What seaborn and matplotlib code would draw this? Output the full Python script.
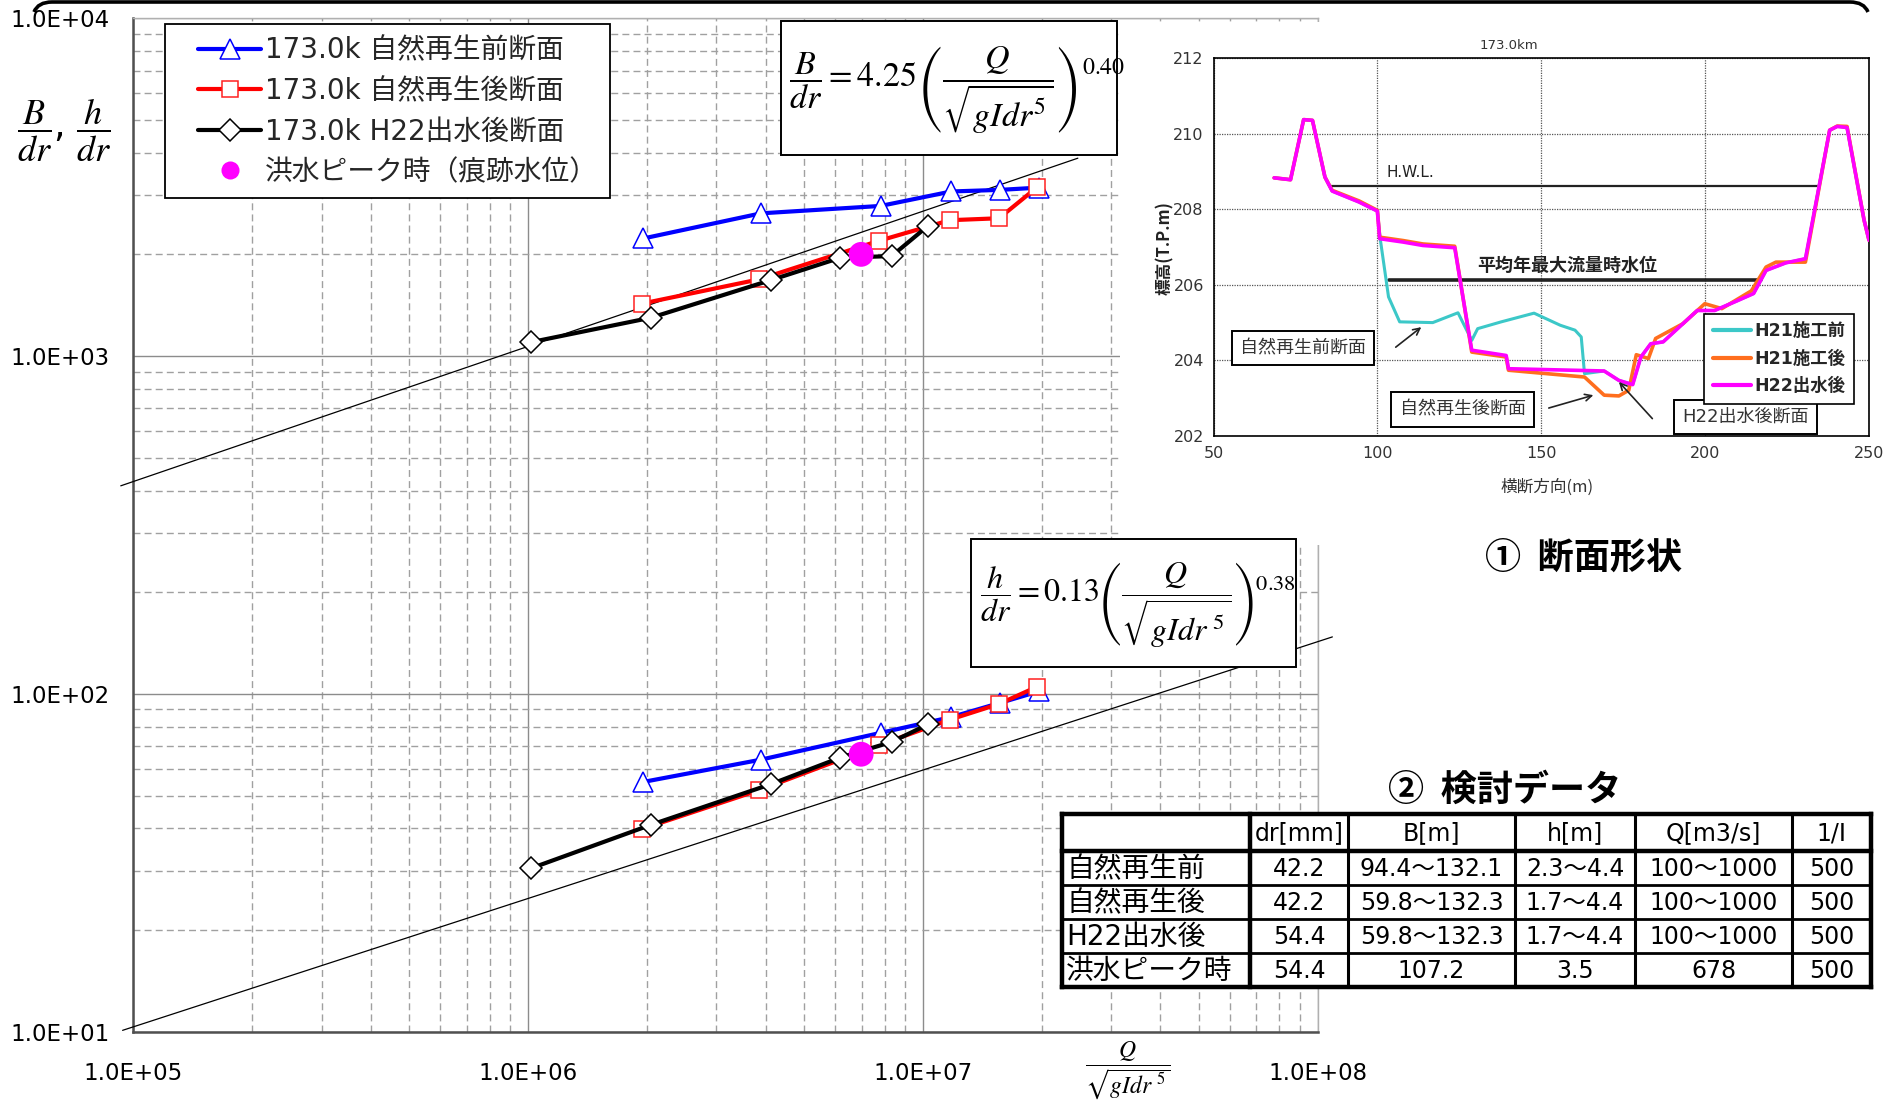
import matplotlib
matplotlib.use("Agg")
import matplotlib.pyplot as plt
import seaborn as sns
import numpy as np
from matplotlib import font_manager as fm
from matplotlib.font_manager import FontProperties
from matplotlib.ticker import LogLocator, NullFormatter, FixedLocator, FixedFormatter
from matplotlib.patches import Rectangle, PathPatch
from matplotlib.path import Path
from matplotlib.lines import Line2D
from matplotlib.legend_handler import HandlerLine2D

# ---------------- main log-log chart data ----------------
x_before = [1.96e6, 3.89e6, 7.82e6, 1.18e7, 1.57e7, 1.97e7]
x_after = [1.94e6, 3.85e6, 7.73e6, 1.17e7, 1.56e7, 1.95e7]
x_h22 = [1.02e6, 2.05e6, 4.13e6, 6.18e6, 8.34e6, 1.03e7]
B_before = [2229, 2645, 2782, 3070, 3104, 3152]
B_after = [1429, 1687, 2192, 2524, 2558, 3163]
B_h22 = [1100, 1299, 1679, 1954, 1977, 2427]
h_before = [54.9, 63.9, 76.7, 85.4, 94.1, 101.8]
h_after = [39.8, 51.9, 70.5, 83.9, 93.4, 105.1]
h_h22 = [30.5, 41.0, 54.1, 64.8, 72.1, 81.2]
x_peak = [6.98e6]
B_peak = [2000]
h_peak = [66.3]
fitB_x = [9.3e4, 2.47e7]
fitB_y = [413, 3852]
fith_x = [9.4e4, 1.09e8]
fith_y = [10.1, 147.5]

series_labels = ["173.0k 自然再生前断面", "173.0k 自然再生後断面",
                 "173.0k H22出水後断面", "洪水ピーク時（痕跡水位）"]
x_ticks = [1e5, 1e6, 1e7, 1e8]
x_ticklabels = ["1.0E+05", "1.0E+06", "1.0E+07", "1.0E+08"]
y_ticks = [1e1, 1e2, 1e3, 1e4]
y_ticklabels = ["1.0E+01", "1.0E+02", "1.0E+03", "1.0E+04"]

# ---------------- cross-section inset data ----------------
sec_x_h22 = [68.5, 73.5, 77.5, 80.2, 84.0, 86.2, 94.4, 100.0, 100.7, 107.9, 113.9, 123.6,
             128.8, 139.3, 140.0, 169.2, 173.7, 177.9, 180.4, 183.4, 187.2, 197.6, 202.9,
             209.6, 214.8, 218.6, 224.6, 230.6, 238.0, 240.3, 243.3, 248.5, 250.0]
sec_y_h22 = [208.83, 208.78, 210.37, 210.35, 208.85, 208.48, 208.19, 207.95, 207.22, 207.13,
             207.04, 206.98, 204.27, 204.13, 203.78, 203.72, 203.47, 203.36, 204.09, 204.44,
             204.49, 205.32, 205.32, 205.57, 205.77, 206.38, 206.58, 206.69, 210.09, 210.19,
             210.16, 207.71, 207.18]
sec_x_after = [68.5, 73.5, 77.5, 80.2, 84.0, 86.2, 94.4, 100.0, 100.7, 107.9, 113.9, 123.6,
               128.8, 139.3, 140.0, 163.2, 169.2, 173.7, 176.7, 179.0, 182.7, 184.9, 193.2,
               199.9, 205.1, 214.1, 218.6, 221.6, 230.6, 238.0, 240.3, 243.3, 248.5, 250.0]
sec_y_after = [208.83, 208.78, 210.37, 210.35, 208.85, 208.50, 208.22, 207.97, 207.26, 207.17,
               207.08, 207.02, 204.22, 204.09, 203.74, 203.56, 203.08, 203.06, 203.21, 204.15,
               204.05, 204.58, 204.97, 205.50, 205.37, 205.84, 206.47, 206.60, 206.60, 210.09,
               210.20, 210.19, 207.71, 207.18]
sec_x_before = [68.5, 73.5, 77.5, 80.2, 84.0, 86.2, 94.4, 100.0, 100.8, 103.4, 106.8, 116.9,
                124.6, 128.8, 130.6, 137.8, 147.8, 155.8, 160.3, 162.2, 163.2, 169.2, 173.7,
                177.9, 180.4, 183.4, 187.2, 197.6, 202.9, 209.6, 214.8, 218.6, 224.6, 230.6,
                238.0, 240.3, 243.3, 248.5, 250.0]
sec_y_before = [208.83, 208.78, 210.37, 210.35, 208.85, 208.48, 208.19, 207.95, 207.26, 205.68,
                205.02, 205.00, 205.26, 204.53, 204.84, 205.02, 205.25, 204.93, 204.80, 204.62,
                203.65, 203.72, 203.47, 203.36, 204.09, 204.44, 204.49, 205.32, 205.32, 205.57,
                205.77, 206.38, 206.58, 206.69, 210.09, 210.19, 210.16, 207.71, 207.18]
hwl_x = [85.9, 234.7]
hwl_y = [208.61, 208.61]
mean_x = [103.4, 217.1]
mean_y = [206.14, 206.14]
sec_labels = ["H21施工前", "H21施工後", "H22出水後"]

# ---------------- table data ----------------
table_header = ["", "dr[mm]", "B[m]", "h[m]", "Q[m3/s]", "1/I"]
table_rows = ["自然再生前", "自然再生後", "H22出水後", "洪水ピーク時"]
table_dr = ["42.2", "42.2", "54.4", "54.4"]
table_B = ["94.4～132.1", "59.8～132.3", "59.8～132.3", "107.2"]
table_h = ["2.3～4.4", "1.7～4.4", "1.7～4.4", "3.5"]
table_Q = ["100～1000", "100～1000", "100～1000", "678"]
table_I = ["500", "500", "500", "500"]

# ---------------- style ----------------
sns.set_theme(style="white")
names = {f.name for f in fm.fontManager.ttflist}
NARROW = "Liberation Sans Narrow" if "Liberation Sans Narrow" in names else "DejaVu Sans"
IS_NARROW = NARROW != "DejaVu Sans"
CJK = "Noto Sans CJK JP"
plt.rcParams["font.family"] = [NARROW, CJK, "DejaVu Sans"]
plt.rcParams["mathtext.fontset"] = "stix"
plt.rcParams["axes.unicode_minus"] = False

TICK_FS = 22 if IS_NARROW else 16.5
TABLE_FS = 21 if IS_NARROW else 17
TABLE_LAB_FS = 20
INSET_FS = 14 if IS_NARROW else 11.5

W, H = 1899, 1106
fig = plt.figure(figsize=(W / 100, H / 100), dpi=100)
fig.patch.set_facecolor("white")


def fx(px):
    return px / W


def fy(py):
    return 1 - py / H


# ---------------- main axes ----------------
ax = fig.add_axes([fx(133.2), fy(1031.8), fx(1317.6) - fx(133.2), fy(18.2) - fy(1031.8)])
ax.set_zorder(1)
ax.set_xscale("log")
ax.set_yscale("log")
ax.set_xlim(1e5, 1e8)
ax.set_ylim(10, 1e4)
ax.set_facecolor("white")

ax.xaxis.set_major_locator(FixedLocator(x_ticks))
ax.xaxis.set_major_formatter(FixedFormatter(x_ticklabels))
ax.yaxis.set_major_locator(FixedLocator(y_ticks))
ax.yaxis.set_major_formatter(FixedFormatter(y_ticklabels))
ax.xaxis.set_minor_locator(LogLocator(base=10, subs=np.arange(2, 10)))
ax.yaxis.set_minor_locator(LogLocator(base=10, subs=np.arange(2, 10)))
ax.xaxis.set_minor_formatter(NullFormatter())
ax.yaxis.set_minor_formatter(NullFormatter())
ax.set_axisbelow(True)
ax.grid(True, which="major", color="#8c8c8c", lw=1.0, ls="-")
ax.grid(True, which="minor", color="#a0a0a0", lw=1.0, ls=(0, (5, 3)))
ax.tick_params(axis="both", which="major", length=6, direction="in", color="#444444",
               labelsize=TICK_FS, labelcolor="black")
ax.tick_params(axis="x", which="major", pad=22)
ax.tick_params(axis="y", which="major", pad=17)
ax.tick_params(which="minor", length=0)
for s in ["left", "bottom"]:
    ax.spines[s].set_color("#505050")
    ax.spines[s].set_linewidth(1.8)
for s in ["top", "right"]:
    ax.spines[s].set_color("#b0b0b0")
    ax.spines[s].set_linewidth(1.0)

# fitted power-law reference lines
sns.lineplot(x=fitB_x, y=fitB_y, ax=ax, color="black", linewidth=0.9, sort=False,
             estimator=None, clip_on=False, zorder=3)
sns.lineplot(x=fith_x, y=fith_y, ax=ax, color="black", linewidth=0.9, sort=False,
             estimator=None, clip_on=False, zorder=3)

LW = 3.0
styles = [
    dict(color="#0000ff", marker="^", markersize=15, markerfacecolor="white",
         markeredgecolor="#0000ff"),
    dict(color="#ff0000", marker="s", markersize=11.5, markerfacecolor="white",
         markeredgecolor="#ff2020"),
    dict(color="black", marker="D", markersize=11, markerfacecolor="white",
         markeredgecolor="black"),
]
for (xs, ys), st in zip([(x_before, B_before), (x_after, B_after), (x_h22, B_h22)], styles):
    sns.lineplot(x=xs, y=ys, ax=ax, linewidth=LW, sort=False, estimator=None,
                 markeredgewidth=1.1, zorder=5, **st)
for (xs, ys), st in zip([(x_before, h_before), (x_after, h_after), (x_h22, h_h22)], styles):
    sns.lineplot(x=xs, y=ys, ax=ax, linewidth=LW, sort=False, estimator=None,
                 markeredgewidth=1.1, zorder=5, **st)
for ys in (B_peak, h_peak):
    sns.scatterplot(x=x_peak, y=ys, ax=ax, color="#ff00ff", s=320, edgecolor="none",
                    zorder=7)

handles = [Line2D([], [], linewidth=LW, markeredgewidth=1.1, **st) for st in styles]
handles.append(Line2D([], [], ls="none", marker="o", markersize=13,
                      markerfacecolor="#ff00ff", markeredgecolor="none"))
leg = ax.legend(handles, series_labels, loc="upper left", bbox_to_anchor=(0.0268, 0.9943),
                borderaxespad=0, frameon=True, fancybox=False, edgecolor="black",
                framealpha=1, handlelength=3.0, handletextpad=0.15, labelspacing=0.45,
                borderpad=0.45, handler_map={Line2D: HandlerLine2D(xpad=0.75)},
                prop=FontProperties(family=[NARROW, CJK], size=20))
leg.get_frame().set_linewidth(1.3)
leg.set_zorder(10)

# white area where the cross-section picture sits
fig.patches.append(Rectangle((fx(1120), fy(545)), fx(1899) - fx(1120), fy(22) - fy(545),
                             transform=fig.transFigure, facecolor="white",
                             edgecolor="none", zorder=1.5))

# ---------------- inset cross-section ----------------
axi = fig.add_axes([fx(1213.5), fy(436), fx(1869) - fx(1213.5), fy(58) - fy(436)])
axi.set_zorder(3)
axi.set_facecolor("white")
axi.set_xlim(50, 250)
axi.set_ylim(202, 212)
axi.set_xticks([50, 100, 150, 200, 250])
axi.set_yticks([202, 204, 206, 208, 210, 212])
axi.grid(True, color="#555555", lw=0.9, ls=(0, (1, 1)))
axi.set_axisbelow(True)
axi.tick_params(axis="both", length=4, direction="out", color="black",
                labelsize=INSET_FS, labelcolor="#333333", pad=3)
for s in axi.spines.values():
    s.set_color("black")
    s.set_linewidth(1.2)

c_before, c_after, c_h22 = "#3cc8c8", "#ff6e1e", "#ff00ff"
sns.lineplot(x=sec_x_before, y=sec_y_before, ax=axi, color=c_before, linewidth=2.2,
             sort=False, estimator=None, zorder=3)
sns.lineplot(x=sec_x_after, y=sec_y_after, ax=axi, color=c_after, linewidth=2.6,
             sort=False, estimator=None, zorder=4)
sns.lineplot(x=sec_x_h22, y=sec_y_h22, ax=axi, color=c_h22, linewidth=2.6,
             sort=False, estimator=None, zorder=5)
sns.lineplot(x=hwl_x, y=hwl_y, ax=axi, color="#222222", linewidth=1.6, sort=False,
             estimator=None, zorder=2)
sns.lineplot(x=mean_x, y=mean_y, ax=axi, color="#222222", linewidth=2.6, sort=False,
             estimator=None, zorder=2)

axi.text(140, 212.15, "173.0km", ha="center", va="bottom", fontsize=INSET_FS - 2,
         color="#333333")
axi.text(102.7, 208.98, "H.W.L.", ha="left", va="center", fontsize=INSET_FS - 0.5,
         color="#222222")
axi.text(157.8, 206.51, "平均年最大流量時水位", ha="center", va="center", fontsize=13,
         fontweight="bold", family=[CJK], color="#222222")

box_kw = dict(boxstyle="square,pad=0.45", facecolor="white", edgecolor="black", lw=1.4)
axi.text(77.2, 204.32, "自然再生前断面", ha="center", va="center", fontsize=13,
         family=[CJK], color="#333333", bbox=box_kw, zorder=8)
axi.text(126.0, 202.70, "自然再生後断面", ha="center", va="center", fontsize=13,
         family=[CJK], color="#333333", bbox=box_kw, zorder=8)
axi.text(212.4, 202.51, "H22出水後断面", ha="center", va="center", fontsize=13,
         family=[NARROW, CJK], color="#333333", bbox=box_kw, zorder=8)
arr = dict(arrowstyle="->", lw=1.2, color="#222222", shrinkA=0, shrinkB=0)
axi.annotate("", xy=(113.4, 204.88), xytext=(105.6, 204.35), arrowprops=arr, zorder=8)
axi.annotate("", xy=(165.9, 203.08), xytext=(152.3, 202.74), arrowprops=arr, zorder=8)
axi.annotate("", xy=(173.7, 203.43), xytext=(183.9, 202.46), arrowprops=arr, zorder=8)

sec_handles = [Line2D([], [], color=c, lw=3) for c in (c_before, c_after, c_h22)]
lg2 = axi.legend(sec_handles, sec_labels, loc="upper left", bbox_to_anchor=(0.749, 0.324),
                 borderaxespad=0, frameon=True, fancybox=False, edgecolor="black",
                 framealpha=1, handlelength=2.2, handletextpad=0.2, labelspacing=0.55,
                 borderpad=0.5,
                 prop=FontProperties(family=[NARROW, CJK], size=12.5, weight="bold"))
lg2.get_frame().set_linewidth(1.2)
lg2.set_zorder(9)

# ---------------- overlay (texts, formula boxes, table) ----------------
ov = fig.add_axes([0, 0, 1, 1])
ov.set_zorder(4)
ov.set_xlim(0, W)
ov.set_ylim(H, 0)
ov.set_facecolor("none")
ov.axis("off")

# top rounded border
verts = [(34, 12), (38, 2), (52, 2), (1850, 2), (1864, 2), (1868, 12)]
codes = [Path.MOVETO, Path.CURVE3, Path.CURVE3, Path.LINETO, Path.CURVE3, Path.CURVE3]
ov.add_patch(PathPatch(Path(verts, codes), facecolor="none", edgecolor="black", lw=2.6,
                       clip_on=False))

# formula boxes
ov.add_patch(Rectangle((781, 21), 336, 134, facecolor="white", edgecolor="black", lw=1.4))
ov.text(957, 90, r"$\dfrac{B}{dr}=4.25\left(\dfrac{Q}{\sqrt{gIdr^{5}}}\right)^{0.40}$",
        ha="center", va="center", fontsize=24.5, color="black")
ov.add_patch(Rectangle((971, 539), 325, 128, facecolor="white", edgecolor="black", lw=1.4))
ov.text(1138, 605, r"$\dfrac{h}{dr}=0.13\left(\dfrac{Q}{\sqrt{gIdr^{\ 5}}}\right)^{0.38}$",
        ha="center", va="center", fontsize=23, color="black")

# axis labels
ov.text(64, 130, r"$\dfrac{B}{dr}$, $\dfrac{h}{dr}$", ha="center", va="center",
        fontsize=26, color="black")
ov.text(1128, 1071, r"$\dfrac{Q}{\sqrt{gIdr^{\ 5}}}$", ha="center", va="center",
        fontsize=17, color="black")
ov.text(1165, 248, "標高(T.P.m)", rotation=90, ha="center", va="center", fontsize=12,
        fontweight="bold", family=[CJK, "DejaVu Sans"], color="#222222")
ov.text(1547, 487, "横断方向(m)", ha="center", va="center", fontsize=12,
        family=[CJK, "DejaVu Sans"], color="#333333")

# section titles
ov.text(1584, 558, "①  断面形状", ha="center", va="center", fontsize=26,
        fontweight="bold", family=[CJK, "DejaVu Sans"], color="black")
ov.text(1505, 790, "②  検討データ", ha="center", va="center", fontsize=26,
        fontweight="bold", family=[CJK, "DejaVu Sans"], color="black")

# table
col_edges = [1062, 1250, 1348, 1515, 1635, 1792, 1871]
row_edges = [814, 851, 885, 919, 953, 987]
ov.add_patch(Rectangle((col_edges[0], row_edges[0]), col_edges[-1] - col_edges[0],
                       row_edges[-1] - row_edges[0], facecolor="white", edgecolor="none"))
for i, yv in enumerate(row_edges):
    lw = 3.2 if i in (0, 1, len(row_edges) - 1) else 2.0
    ov.plot([col_edges[0], col_edges[-1]], [yv, yv], color="black", lw=lw,
            solid_capstyle="projecting")
for j, xv in enumerate(col_edges):
    lw = 3.2 if j in (0, 1, len(col_edges) - 1) else 2.2
    ov.plot([xv, xv], [row_edges[0], row_edges[-1]], color="black", lw=lw,
            solid_capstyle="projecting")
tprop = dict(fontsize=TABLE_FS, family=[NARROW, CJK], color="black")
for j, txt in enumerate(table_header):
    if txt:
        ov.text((col_edges[j] + col_edges[j + 1]) / 2, (row_edges[0] + row_edges[1]) / 2 + 1,
                txt, ha="center", va="center", **tprop)
columns = [table_dr, table_B, table_h, table_Q, table_I]
for i, lab in enumerate(table_rows):
    yc = (row_edges[i + 1] + row_edges[i + 2]) / 2 + 1
    ov.text(col_edges[0] + 4, yc, lab, ha="left", va="center", fontsize=TABLE_LAB_FS,
            family=[NARROW, CJK], color="black")
    for j, col in enumerate(columns):
        ov.text((col_edges[j + 1] + col_edges[j + 2]) / 2, yc, col[i], ha="center",
                va="center", **tprop)

fig.savefig("out.png", dpi=100, facecolor="white")
